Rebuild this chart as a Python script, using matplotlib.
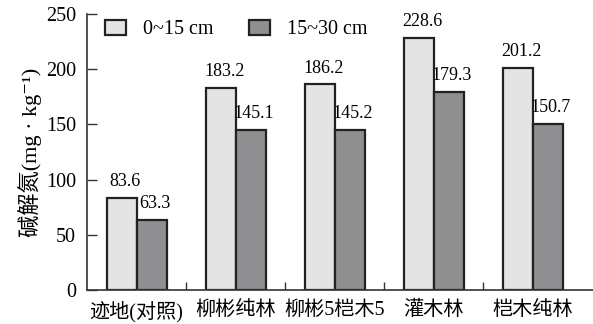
import numpy as np
import matplotlib.pyplot as plt
from matplotlib.ticker import FixedLocator

plt.rcParams['font.family'] = ['Liberation Serif', 'Noto Sans CJK SC', 'DejaVu Serif']

categories = ['迹地(对照)', '柳彬纯林', '柳彬5桤木5', '灌木林', '桤木纯林']
depth_0_15 = [83.6, 183.2, 186.2, 228.6, 201.2]
depth_15_30 = [63.3, 145.1, 145.2, 179.3, 150.7]
series_names = ['0~15 cm', '15~30 cm']

fig = plt.figure(figsize=(5.93, 3.24), dpi=100)
ax = fig.add_axes([0.147, 0.105, 0.853, 0.852])

x = np.arange(len(categories))
w = 0.3
b1 = ax.bar(x - w / 2 + 0.005, depth_0_15, w, color='#e4e4e4', edgecolor='#222222',
            linewidth=1.6, label=series_names[0])
b2 = ax.bar(x + w / 2 + 0.005, depth_15_30, w, color='#8f8f91', edgecolor='#222222',
            linewidth=1.6, label=series_names[1])

for bars, vals in ((b1, depth_0_15), (b2, depth_15_30)):
    for r, v in zip(bars, vals):
        ax.text(r.get_x() + r.get_width() / 2 + 0.03, v + 7, '%.1f' % v,
                ha='center', va='bottom', fontsize=13)

ax.set_xlim(-0.5, 4.61)
ax.set_ylim(0, 250)
ax.set_yticks(np.arange(0, 251, 50))
ax.set_xticks(x)
ax.set_xticklabels(categories, fontsize=14.5)
ax.xaxis.set_minor_locator(FixedLocator(x[:-1] + 0.5))
ax.tick_params(axis='x', which='major', length=0, pad=8)
ax.tick_params(axis='x', which='minor', direction='in', length=6, width=1, color='#333333')
ax.tick_params(axis='y', direction='in', length=7, width=1, labelsize=14.5, pad=8, color='#333333')

ax.spines['top'].set_visible(False)
ax.spines['right'].set_visible(False)
for s in ('left', 'bottom'):
    ax.spines[s].set_linewidth(1.2)
    ax.spines[s].set_color('#333333')

ax.set_ylabel('碱解氮(mg · kg⁻¹)', fontsize=16, labelpad=3)

ax.legend(loc='upper left', bbox_to_anchor=(0.0, 1.045), ncol=2, frameon=False,
          fontsize=14.5, handlelength=1.05, handleheight=0.8, handletextpad=0.8,
          columnspacing=1.8)

fig.savefig('out.png', dpi=100)
